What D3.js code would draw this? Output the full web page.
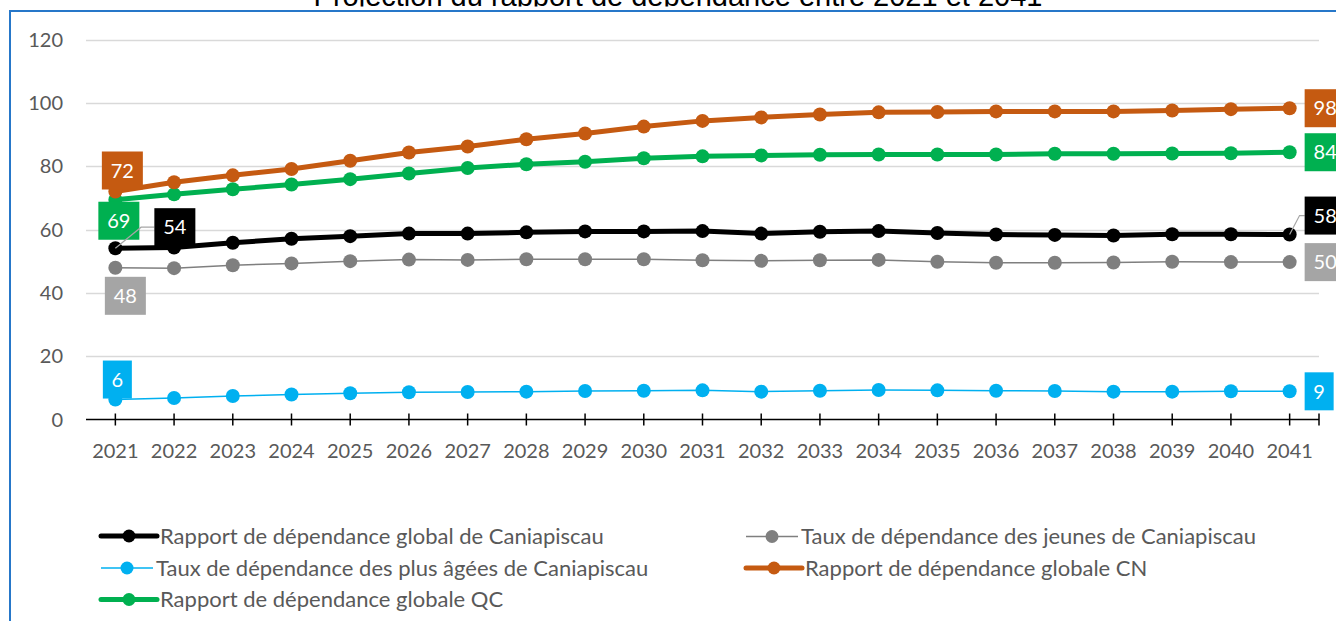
<!DOCTYPE html>
<html>
<head>
<meta charset="utf-8">
<script src="https://cdn.jsdelivr.net/npm/d3@7"></script>
<style>
  html, body { margin: 0; padding: 0; background: #fff; overflow: hidden; }
  svg { display: block; }
  text { font-family: Lato, "Open Sans", sans-serif; }
</style>
</head>
<body>
<svg id="chart" width="1336" height="621"></svg>
<script>
// data
const years = d3.range(2021, 2042).map(String)
const globalCania = [54.1, 54.3, 55.8, 57.1, 57.9, 58.7, 58.7, 59.1, 59.4, 59.4, 59.5, 58.7, 59.3, 59.5, 58.9, 58.4, 58.3, 58.1, 58.5, 58.5, 58.4]
const jeunesCania = [47.9, 47.8, 48.7, 49.3, 50.0, 50.5, 50.4, 50.6, 50.6, 50.6, 50.3, 50.1, 50.3, 50.4, 49.8, 49.5, 49.5, 49.6, 49.8, 49.7, 49.7]
const agesCania   = [6.3, 6.8, 7.4, 7.9, 8.3, 8.6, 8.7, 8.8, 9.0, 9.1, 9.2, 8.8, 9.1, 9.3, 9.2, 9.1, 9.0, 8.8, 8.8, 8.9, 8.9]
const globaleCN   = [72.0, 74.9, 77.1, 79.1, 81.7, 84.3, 86.2, 88.5, 90.3, 92.5, 94.3, 95.4, 96.3, 97.0, 97.1, 97.3, 97.3, 97.3, 97.6, 98.0, 98.3]
const globaleQC   = [69.4, 71.1, 72.7, 74.2, 75.9, 77.7, 79.4, 80.6, 81.4, 82.5, 83.1, 83.4, 83.6, 83.7, 83.7, 83.7, 83.9, 83.9, 84.0, 84.1, 84.4]
const yTicks = [0, 20, 40, 60, 80, 100, 120]
const title = "Projection du rapport de dépendance entre 2021 et 2041"

// drawing order: back to front
const series = [
  {name: "Taux de dépendance des jeunes de Caniapiscau", values: jeunesCania, line: "#7F7F7F", mark: "#7F7F7F", box: "#A5A5A5", w: 1.5,
   first: {pos: "below", dx: 10, dy: 9}, last: {pos: "right"}},
  {name: "Taux de dépendance des plus âgées de Caniapiscau", values: agesCania, line: "#00B0F0", mark: "#00B0F0", box: "#00B0F0", w: 1.5,
   first: {pos: "above", dx: 2, dy: -1}, last: {pos: "right"}},
  {name: "Rapport de dépendance globale QC", values: globaleQC, line: "#00B050", mark: "#00B050", box: "#00B050", w: 5,
   first: {pos: "below", dx: 3.5, dy: 2}, last: {pos: "right"}},
  {name: "Rapport de dépendance globale CN", values: globaleCN, line: "#C55A11", mark: "#C55A11", box: "#C55A11", w: 5,
   first: {pos: "above", dx: 7, dy: -2}, last: {pos: "right"}},
  {name: "Rapport de dépendance global de Caniapiscau", values: globalCania, line: "#000000", mark: "#000000", box: "#000000", w: 5,
   first: {pos: "leader", bx: 39, by: -40}, last: {pos: "leader", bx: 15, by: -38}}
]
const legendOrder = [4, 0, 1, 3, 2]

const svg = d3.select("#chart")
const W = 1336, H = 621
const plot = {left: 86, right: 1319, top: 39.5, bottom: 419.5}

const x = d3.scaleBand().domain(years).range([plot.left, plot.right])
const cx = d => x(d) + x.bandwidth() / 2
const y = d3.scaleLinear().domain([0, 120]).range([plot.bottom, plot.top])

// title (only its lower strip shows above the chart frame) and frame
svg.append("clipPath").attr("id", "titleClip").append("rect").attr("x", 0).attr("y", 0).attr("width", W).attr("height", 6.5)
svg.append("text").attr("x", 678).attr("y", 6).attr("text-anchor", "middle").attr("clip-path", "url(#titleClip)")
  .style("font-family", "'Liberation Sans', Arial, sans-serif").style("font-size", "29px").attr("fill", "#000")
  .text(title)
svg.append("rect").attr("x", 10).attr("y", 11).attr("width", W).attr("height", H)
  .attr("fill", "none").attr("stroke", "#2677C9").attr("stroke-width", 2)

// gridlines
svg.append("g").selectAll("line").data(yTicks.filter(t => t > 0)).join("line")
  .attr("x1", plot.left).attr("x2", plot.right)
  .attr("y1", d => Math.round(y(d)) + 0.5).attr("y2", d => Math.round(y(d)) + 0.5)
  .attr("stroke", "#D9D9D9").attr("stroke-width", 1.5)

// y labels
svg.append("g").selectAll("text").data(yTicks).join("text")
  .attr("x", 63).attr("y", d => y(d)).attr("dy", "0.35em").attr("text-anchor", "end")
  .attr("fill", "#595959").style("font-size", "20px").text(d => d)

// x axis
const xAxis = svg.append("g")
xAxis.append("line").attr("x1", plot.left).attr("x2", plot.right)
  .attr("y1", plot.bottom).attr("y2", plot.bottom).attr("stroke", "#000").attr("stroke-width", 1.5)
xAxis.selectAll("line.tick").data(years.map(cx).concat([plot.right])).join("line").attr("class", "tick")
  .attr("x1", d => d).attr("x2", d => d).attr("y1", plot.bottom - 6).attr("y2", plot.bottom + 6)
  .attr("stroke", "#000").attr("stroke-width", 1.5)
xAxis.selectAll("text").data(years).join("text")
  .attr("x", cx).attr("y", 458).attr("text-anchor", "middle")
  .attr("fill", "#595959").style("font-size", "20px").text(d => d)

// lines + markers
const lineGen = d3.line().x((v, i) => cx(years[i])).y(v => y(v))
const gSeries = svg.append("g")
series.forEach(s => {
  const g = gSeries.append("g")
  g.append("path").attr("d", lineGen(s.values)).attr("fill", "none")
    .attr("stroke", s.line).attr("stroke-width", s.w).attr("stroke-linejoin", "round")
  g.selectAll("circle").data(s.values).join("circle")
    .attr("cx", (v, i) => cx(years[i])).attr("cy", v => y(v)).attr("r", 7).attr("fill", s.mark)
})

// data labels on first and last points
const gLabels = svg.append("g")
const boxH = 38
function label(s, i, opt) {
  const v = s.values[i], px = cx(years[i]), py = y(v)
  const txt = d3.format(".0f")(v)
  const bw = txt.length > 1 ? 41 : 29
  let bx, by
  if (opt.pos === "above") { bx = px + opt.dx - bw / 2; by = py + opt.dy - boxH }
  else if (opt.pos === "below") { bx = px + opt.dx - bw / 2; by = py + opt.dy }
  else if (opt.pos === "right") { bx = px + 15; by = py - boxH / 2 }
  else {
    bx = px + opt.bx; by = py + opt.by
    const my = by + boxH / 2
    gLabels.append("polyline")
      .attr("points", [[px, py], [px + Math.min(opt.bx * 0.66, 26), my], [bx, my]].map(p => p.join(",")).join(" "))
      .attr("fill", "none").attr("stroke", "#A6A6A6").attr("stroke-width", 1.2)
  }
  gLabels.append("rect").attr("x", bx).attr("y", by).attr("width", bw).attr("height", boxH).attr("fill", s.box)
  gLabels.append("text").attr("x", bx + bw / 2).attr("y", by + boxH / 2).attr("dy", "0.36em")
    .attr("text-anchor", "middle").attr("fill", "#fff").style("font-size", "20px").text(txt)
}
series.forEach(s => {
  label(s, 0, s.first)
  label(s, s.values.length - 1, s.last)
})

// legend
const legendPos = [[101, 536], [746, 536.5], [101, 568], [746, 568], [101, 599.5]]
const gLegend = svg.append("g")
legendOrder.forEach((k, j) => {
  const s = series[k], [lx, ly] = legendPos[j]
  const len = s.w > 2 ? 56 : 52
  const g = gLegend.append("g").attr("transform", `translate(${lx},${ly})`)
  g.append("line").attr("x1", 0).attr("x2", len).attr("stroke", s.line).attr("stroke-width", s.w).attr("stroke-linecap", s.w > 2 ? "round" : "butt")
  g.append("circle").attr("cx", len / 2).attr("r", 6.5).attr("fill", s.mark)
  g.append("text").attr("x", len + 3).attr("dy", "0.35em").attr("fill", "#595959").style("font-size", "22px").text(s.name)
})
</script>
</body>
</html>
